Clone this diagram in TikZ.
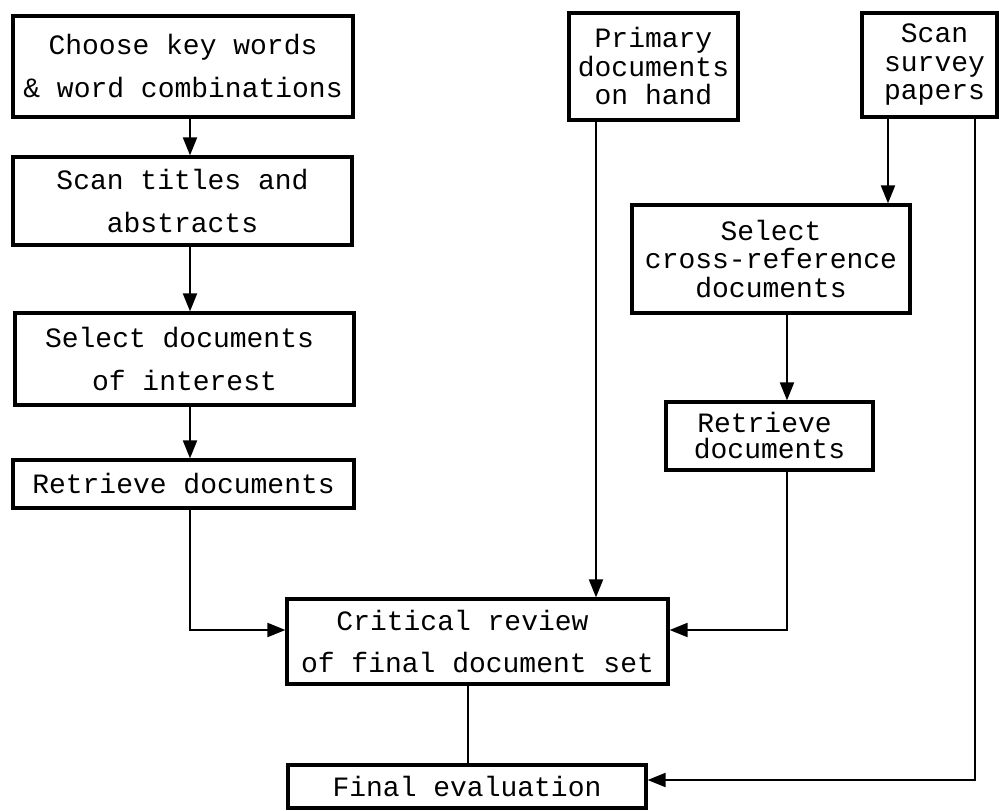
\documentclass[tikz,border=0pt]{standalone}
\usepackage{fontspec}
\newfontfamily\cour{Liberation Mono}
\usetikzlibrary{arrows.meta}
\tikzset{
  box/.style={draw, line width=3.2pt, inner sep=0pt, align=center, anchor=center},
  wide/.style={font=\cour\fontsize{28}{43}\selectfont},
  tight/.style={font=\cour\fontsize{28}{28.5}\selectfont},
  conn/.style={line width=2pt},
  arr/.style={conn, -{Triangle[length=18pt,width=14pt]}}
}
\begin{document}
\begin{tikzpicture}[x=1pt,y=-1pt]
\useasboundingbox (0,0) rectangle (999,811);
% boxes
\node[box,wide,minimum width=340pt,minimum height=101pt] (b1) at (183,66.5) {Choose key words\\\& word combinations};
\node[box,wide,minimum width=339pt,minimum height=88pt] (b2) at (182.5,201) {Scan titles and\\abstracts};
\node[box,wide,minimum width=339pt,minimum height=92pt] (b3) at (184.5,359) {Select documents\hspace*{10pt}\\of interest};
\node[box,wide,minimum width=341pt,minimum height=48pt] (b4) at (183.5,484) {Retrieve documents};
\node[box,tight,minimum width=169pt,minimum height=107pt] (prim) at (653.5,66.5) {Primary\\documents\\on hand};
\node[box,tight,minimum width=135pt,minimum height=104pt] (scan) at (929.5,65) {\hspace*{10pt}Scan\\\hspace*{10pt}survey\\\hspace*{10pt}papers};
\node[box,tight,minimum width=278pt,minimum height=108pt] (sel) at (771,259) {Select\\cross-reference\\documents};
\node[box,font=\cour\fontsize{28}{26}\selectfont,minimum width=207pt,minimum height=68pt] (ret) at (769.5,436) {Retrieve\hspace*{10pt}\\documents};
\node[box,font=\cour\fontsize{28}{42}\selectfont,minimum width=381pt,minimum height=85pt] (crit) at (477.5,641.5) {Critical review\hspace*{30pt}\\of final document set};
\node[box,wide,minimum width=358pt,minimum height=43pt] (fin) at (467,786.5) {Final evaluation};
% helper coordinates
\coordinate (cL) at (190,0);
\coordinate (cP) at (596,0);
\coordinate (cS) at (888,0);
\coordinate (cR) at (787,0);
\coordinate (cF) at (975,0);
\coordinate (cC) at (468,0);
\coordinate (k1) at (190,630);
\coordinate (k2) at (787,630);
\coordinate (k3) at (975,780);
% connectors
\draw[arr] (b1.south -| cL) -- (b2.north -| cL);
\draw[arr] (b2.south -| cL) -- (b3.north -| cL);
\draw[arr] (b3.south -| cL) -- (b4.north -| cL);
\draw[arr] (b4.south -| cL) -- (k1) -- (crit.west |- k1);
\draw[arr] (prim.south -| cP) -- (crit.north -| cP);
\draw[arr] (scan.south -| cS) -- (sel.north -| cS);
\draw[arr] (sel.south -| cR) -- (ret.north -| cR);
\draw[arr] (ret.south -| cR) -- (k2) -- (crit.east |- k2);
\draw[conn] (crit.south -| cC) -- (fin.north -| cC);
\draw[arr] (scan.south -| cF) -- (k3) -- (fin.east |- k3);
\end{tikzpicture}
\end{document}
